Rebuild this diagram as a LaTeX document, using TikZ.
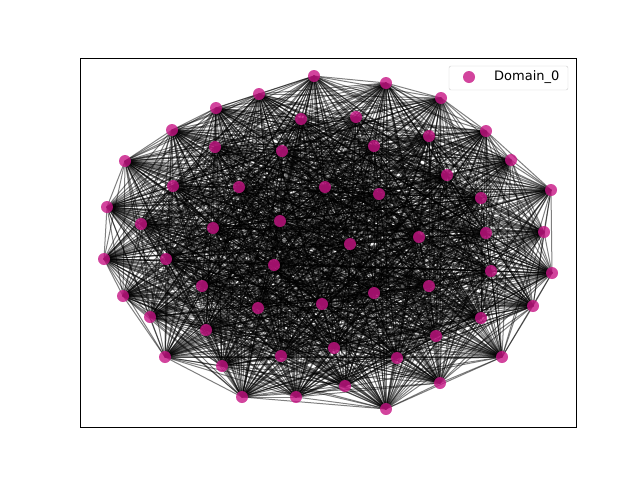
\documentclass[tikz,border=0pt]{standalone}
\usepackage{fontspec}
\setmainfont{DejaVu Sans}
\usetikzlibrary{backgrounds}
\definecolor{domain}{RGB}{199,21,133}

\begin{document}
\begin{tikzpicture}[x=1pt,y=-1pt,
    vtx/.style={circle,fill=domain,fill opacity=0.8,inner sep=0pt,minimum size=12pt},
    link/.style={black,opacity=0.5,line width=1pt}]
    \useasboundingbox (0,0) rectangle (640,480);
    % vertices of Domain_0
    \foreach \p [count=\i] in {(314,76),(386,83),(441,98),(486,131),(511,160),(551,190),
        (544,232),(552,273),(533,306),(502,357),(440,383),(386,409),(345,386),(296,397),
        (242,397),(165,357),(150,317),(123,296),(104,259),(107,207),(125,161),(172,130),
        (216,108),(259,94),(356,117),(301,119),(429,136),(447,175),(481,198),(486,233),
        (491,271),(481,318),(436,336),(397,358),(334,348),(281,356),(222,366),(206,330),
        (202,286),(166,259),(141,224),(173,186),(215,147),(282,151),(374,146),(239,187),
        (325,187),(379,194),(419,237),(350,244),(280,221),(213,228),(274,265),(258,308),
        (322,304),(374,293),(429,286)}
        \node[vtx] (n\i) at \p {};
    % edges
    \pgfmathsetseed{12}
    \begin{scope}[on background layer]
        \foreach \i in {1,...,56} {
            \pgfmathtruncatemacro\k{\i+1}
            \foreach \j in {\k,...,57} {
                \pgfmathsetmacro\r{rnd}
                \ifdim\r pt<0.95pt \draw[link] (n\i.center) -- (n\j.center); \fi
            }
        }
    \end{scope}
    % axes frame
    \draw[line width=1pt] (80,58) rectangle (576,427);
    % legend
    \node[draw=black!20,rounded corners=2pt,fill=white,fill opacity=0.8,
        minimum width=119pt,minimum height=24pt] (legend) at (508.5,78) {};
    \node[vtx] (key) at (469,77) {};
    \node[anchor=west,inner sep=0pt,font=\fontsize{13}{15}\selectfont] (keytext) at (494,77) {Domain\_0};
\end{tikzpicture}
\end{document}
